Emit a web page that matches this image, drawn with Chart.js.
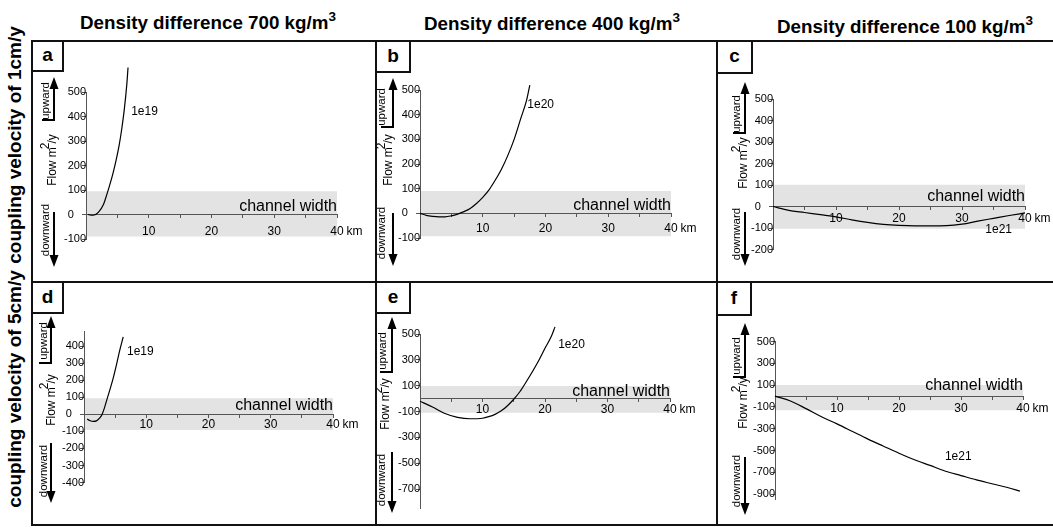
<!DOCTYPE html>
<html>
<head>
<meta charset="utf-8">
<script src="https://cdn.jsdelivr.net/npm/chart.js@4.4.0/dist/chart.umd.min.js"></script>
<style>
  body { margin: 0; background: #fff; }
  #page { position: relative; width: 1053px; height: 530px; overflow: hidden; font-family: "Liberation Sans", Arial, sans-serif; color: #000; }
  .title { position: absolute; font-weight: bold; font-size: 18.8px; line-height: 22px; white-space: nowrap; transform: translateX(-50%); }
  .title sup { position: relative; top: -8px; vertical-align: baseline; font-size: 13.5px; }
  .rowlab { position: absolute; font-weight: bold; font-size: 19px; white-space: nowrap; transform: translate(-50%, -50%) rotate(-90deg); }
  .rule { position: absolute; background: #111; z-index: 3; }
  .tag { position: absolute; box-sizing: border-box; border: 2px solid #111; background: #fff; font-weight: bold; font-size: 19px; text-align: center; z-index: 2; }
  canvas { position: absolute; }
</style>
</head>
<body>
<div id="page">
  <div class="title" style="left:208px;top:12px">Density difference 700 kg/m<sup>3</sup></div>
  <div class="title" style="left:552px;top:13px">Density difference 400 kg/m<sup>3</sup></div>
  <div class="title" style="left:905px;top:16px">Density difference 100 kg/m<sup>3</sup></div>
  <div class="rowlab" style="left:15px;top:145px">coupling velocity of 1cm/y</div>
  <div class="rowlab" style="left:15px;top:389px">coupling velocity of 5cm/y</div>

  <div class="rule" style="left:31px;top:40px;width:1022px;height:2px"></div>
  <div class="rule" style="left:31px;top:281px;width:1022px;height:2px"></div>
  <div class="rule" style="left:31px;top:524px;width:1022px;height:2px"></div>
  <div class="rule" style="left:31px;top:40px;width:2px;height:486px"></div>
  <div class="rule" style="left:375px;top:40px;width:2px;height:486px"></div>
  <div class="rule" style="left:716px;top:40px;width:2px;height:486px"></div>

  <div class="tag" style="left:31px;top:40px;width:33px;height:32px;line-height:26px">a</div>
  <div class="tag" style="left:375px;top:40px;width:36px;height:33px;line-height:27px">b</div>
  <div class="tag" style="left:716px;top:40px;width:37px;height:34px;line-height:28px">c</div>
  <div class="tag" style="left:31px;top:281px;width:33px;height:33px;line-height:27px">d</div>
  <div class="tag" style="left:375px;top:281px;width:36px;height:33px;line-height:27px">e</div>
  <div class="tag" style="left:716px;top:281px;width:36px;height:35px;line-height:29px">f</div>
</div>
<script>
// x ticks (km) shared by all panels
const xTicks = [5, 10, 15, 20, 25, 30, 35, 40];

// y ticks (Flow m2/y)
const ticksA = [-100, 0, 100, 200, 300, 400, 500];
const ticksB = [-100, 0, 100, 200, 300, 400, 500];
const ticksC = [-200, -100, 0, 100, 200, 300, 400, 500];
const ticksD = [-400, -300, -200, -100, 0, 100, 200, 300, 400];
const ticksE = [-700, -500, -300, -100, 100, 300, 500];
const ticksF = [-900, -700, -500, -300, -100, 100, 300, 500];

// curves: distance (km) / flow (m2/y)
const distA = [0.3, 0.8, 1.3, 2.0, 2.8, 3.3, 3.8, 4.3, 4.8, 5.3, 5.7, 6.1, 6.5, 6.7];
const flowA = [0, -3, -2, 10, 42, 80, 122, 168, 222, 285, 350, 428, 530, 600];

const distB = [0, 1, 2, 3, 4, 5, 6, 7, 8, 9, 10, 11, 12, 13, 14, 15, 16, 17, 17.5];
const flowB = [0, -8, -12, -14, -14, -10, -3, 7, 20, 40, 65, 95, 135, 180, 235, 300, 380, 460, 520];

const distC = [0, 2.5, 5, 7.5, 10, 12.5, 15, 17.5, 20, 22.5, 25, 27.5, 30, 32.5, 35, 37.5, 40];
const flowC = [0, -18, -28, -38, -48, -62, -74, -83, -88, -90, -90, -89, -82, -68, -55, -42, -30];

const distD = [0.5, 1, 1.5, 2, 2.5, 2.9, 3.3, 3.7, 4.2, 4.7, 5.2, 5.7, 6.3];
const flowD = [-27, -37, -41, -38, -22, 0, 40, 90, 150, 215, 290, 370, 456];

const distE = [0, 2, 4, 6, 8, 10, 11, 12, 13, 14, 15, 16, 17, 18, 19, 20, 21, 21.6];
const flowE = [-20, -65, -115, -145, -156, -152, -140, -122, -95, -55, -5, 55, 130, 210, 295, 390, 480, 555];

const distF = [0, 2.5, 5, 7.5, 10, 12.5, 15, 17.5, 20, 22.5, 25, 27.5, 30, 32.5, 35, 37.5, 39.5];
const flowF = [0, -45, -115, -190, -255, -325, -395, -460, -525, -585, -637, -690, -730, -770, -805, -840, -873];

// channel width band (top, bottom)
const bandA = [95, -90];
const bandB = [91, -93];
const bandC = [101, -104];
const bandD = [95, -92];
const bandE = [97, -109];
const bandF = [101, -129];

const curveNames = ['1e19', '1e20', '1e21', '1e19', '1e20', '1e21'];

const FONT = '"Liberation Sans", Arial, sans-serif';
Chart.defaults.font.family = FONT;
Chart.defaults.color = '#000';

// cells and plot frames, page pixels
const colLeft = [33, 377, 718];
const colWidth = [342, 339, 335];
const rowTop = [42, 283];
const rowHeight = [239, 241];

const panels = [
    { col: 0, row: 0, dist: distA, flow: flowA, band: bandA, yTicks: ticksA, yMin: -100, yMax: 500,
      area: [86, 337, 92, 239], yPad: 4, xOff: 17, cwGap: 4, nameAt: [7.2, 420],
      deco: { ax: 54, upTip: 77, upTail: 120, upText: [46, 101], flow: [52, 160], downTail: 212, downTip: 267, downText: [46, 230] } },
    { col: 1, row: 0, dist: distB, flow: flowB, band: bandB, yTicks: ticksB, yMin: -100, yMax: 500,
      area: [420, 671, 90, 238], yPad: 1, xOff: 15, cwGap: 3, nameAt: [17.1, 439],
      deco: { ax: 393, upTip: 78, upTail: 127, upText: [382, 107], flow: [388, 160], downTail: 213, downTip: 266, downText: [382, 233] } },
    { col: 2, row: 0, dist: distC, flow: flowC, band: bandC, yTicks: ticksC, yMin: -200, yMax: 500,
      area: [773, 1025, 99, 249.5], yPad: 4, xOff: 12.5, cwGap: 6, nameAt: [33.7, -108],
      deco: { ax: 745, upTip: 82, upTail: 133, upText: [737, 114], flow: [743, 163], downTail: 212, downTip: 266, downText: [737, 234] } },
    { col: 0, row: 1, dist: distD, flow: flowD, band: bandD, yTicks: ticksD, yMin: -400, yMax: 490,
      area: [84, 333, 331, 482.5], yPad: 1, xOff: 10.6, cwGap: 4, nameAt: [6.9, 368],
      deco: { ax: 51, upTip: 316, upTail: 363, upText: [44, 341], flow: [51, 400], downTail: 443, downTip: 503, downText: [44, 471] } },
    { col: 1, row: 1, dist: distE, flow: flowE, band: bandE, yTicks: ticksE, yMin: -850, yMax: 500,
      area: [420, 670, 334, 508.4], yPad: 1, xOff: 11, cwGap: 3, nameAt: [22.1, 415],
      deco: { ax: 392, upTip: 317, upTail: 372, upText: [383, 351], flow: [385, 404], downTail: 452, downTip: 513, downText: [382, 480] } },
    { col: 2, row: 1, dist: distF, flow: flowF, band: bandF, yTicks: ticksF, yMin: -950, yMax: 500,
      area: [775, 1023, 341.7, 499.5], yPad: 6, xOff: 13, cwGap: 6, nameAt: [27.4, -558],
      deco: { ax: 745, upTip: 323, upTail: 377, upText: [737, 356], flow: [743, 403], downTail: 457, downTip: 515, downText: [737, 481] } }
];

const vText = (ctx, str, cx, cy) => {
    ctx.save();
    ctx.translate(cx, cy);
    ctx.rotate(-Math.PI / 2);
    ctx.textAlign = 'center';
    ctx.textBaseline = 'middle';
    ctx.fillText(str, 0, 0);
    ctx.restore();
};

const arrowHead = (ctx, x, y, dir) => {
    ctx.beginPath();
    ctx.moveTo(x, y);
    ctx.lineTo(x - 4.5, y + dir * 12);
    ctx.lineTo(x + 4.5, y + dir * 12);
    ctx.closePath();
    ctx.fill();
};

// annotations drawn on top of each panel
const decoPlugin = {
    id: 'deco',
    afterDraw(chart, args, o) {
        const ctx = chart.ctx;
        const xs = chart.scales.x;
        const ys = chart.scales.y;
        const d = o.deco;
        const L = o.left, T = o.top;
        const zero = ys.getPixelForValue(0);
        ctx.save();
        ctx.fillStyle = '#000';
        ctx.strokeStyle = '#000';

        ctx.font = '12px ' + FONT;
        ctx.textAlign = 'left';
        ctx.textBaseline = 'middle';
        ctx.fillText(o.name, xs.getPixelForValue(o.nameAt[0]), ys.getPixelForValue(o.nameAt[1]));
        ctx.fillText('km', xs.getPixelForValue(40) + 9.5, zero + o.xOff);

        ctx.font = '16px ' + FONT;
        ctx.textAlign = 'right';
        ctx.textBaseline = 'alphabetic';
        ctx.fillText('channel width', xs.getPixelForValue(40), zero - o.cwGap);

        // upward / downward arrows
        const ax = d.ax - L;
        ctx.lineWidth = 2;
        ctx.beginPath();
        ctx.moveTo(ax, d.upTip - T + 8);
        ctx.lineTo(ax, d.upTail - T);
        ctx.moveTo(ax + 1, d.upTail - T);
        ctx.lineTo(ax - 12, d.upTail - T);
        ctx.moveTo(ax, d.downTail - T);
        ctx.lineTo(ax, d.downTip - T - 8);
        ctx.stroke();
        arrowHead(ctx, ax, d.upTip - T, 1);
        arrowHead(ctx, ax, d.downTip - T, -1);

        ctx.font = '11.5px ' + FONT;
        vText(ctx, 'upward', d.upText[0] - L, d.upText[1] - T);
        vText(ctx, 'downward', d.downText[0] - L, d.downText[1] - T);

        // Flow m2/y with raised 2
        ctx.save();
        ctx.translate(d.flow[0] - L, d.flow[1] - T);
        ctx.rotate(-Math.PI / 2);
        ctx.textBaseline = 'middle';
        ctx.textAlign = 'left';
        ctx.font = '12px ' + FONT;
        const w1 = ctx.measureText('Flow m').width;
        const w3 = ctx.measureText('/y').width;
        const w2 = ctx.measureText('2').width - 3;
        let x = -(w1 + w2 + w3) / 2;
        ctx.fillText('Flow m', x, 1);
        ctx.fillText('2', x + w1 - 2, -6);
        ctx.fillText('/y', x + w1 + w2, 1);
        ctx.restore();

        ctx.restore();
    }
};
Chart.register(decoPlugin);

const page = document.getElementById('page');

panels.forEach((p, i) => {
    const left = colLeft[p.col];
    const top = rowTop[p.row];
    const w = colWidth[p.col];
    const h = rowHeight[p.row];
    const cv = document.createElement('canvas');
    cv.width = w;
    cv.height = h;
    cv.style.left = left + 'px';
    cv.style.top = top + 'px';
    page.appendChild(cv);

    new Chart(cv, {
        type: 'line',
        data: {
            datasets: [
                {
                    data: p.dist.map((x, k) => ({ x: x, y: p.flow[k] })),
                    borderColor: '#000',
                    borderWidth: 1.2,
                    pointRadius: 0,
                    fill: false,
                    cubicInterpolationMode: 'monotone',
                    clip: false
                },
                {
                    data: [{ x: 0, y: p.band[0] }, { x: 40, y: p.band[0] }],
                    fill: { value: p.band[1] },
                    backgroundColor: '#e3e3e3',
                    borderColor: 'rgba(0,0,0,0)',
                    borderWidth: 0,
                    pointRadius: 0
                }
            ]
        },
        options: {
            responsive: false,
            animation: false,
            devicePixelRatio: 1,
            layout: {
                padding: {
                    left: p.area[0] - left,
                    right: left + w - p.area[1],
                    top: p.area[2] - top,
                    bottom: top + h - p.area[3]
                }
            },
            scales: {
                x: {
                    type: 'linear',
                    min: 0,
                    max: 40,
                    position: { y: 0 },
                    afterBuildTicks: (s) => { s.ticks = xTicks.map(v => ({ value: v })); },
                    ticks: {
                        autoSkip: false,
                        maxRotation: 0,
                        padding: p.xOff - 3 - 7.2,
                        font: { size: 12 },
                        color: '#000',
                        callback: (v) => (v % 10 === 0 ? String(v) : '')
                    },
                    grid: { drawOnChartArea: false, tickLength: 3, color: '#555' },
                    border: { color: '#555', width: 1 }
                },
                y: {
                    type: 'linear',
                    min: p.yMin,
                    max: p.yMax,
                    position: { x: 0 },
                    afterBuildTicks: (s) => { s.ticks = p.yTicks.map(v => ({ value: v })); },
                    ticks: {
                        autoSkip: false,
                        padding: p.yPad,
                        font: { size: 11 },
                        color: '#000',
                        callback: (v) => (v === 0 ? '0    ' : String(v))
                    },
                    grid: { drawOnChartArea: false, tickLength: 4, color: '#555' },
                    border: { color: '#555', width: 1 }
                }
            },
            plugins: {
                legend: { display: false },
                tooltip: { enabled: false },
                filler: { drawTime: 'beforeDraw' },
                deco: {
                    left: left,
                    top: top,
                    deco: p.deco,
                    name: curveNames[i],
                    nameAt: p.nameAt,
                    xOff: p.xOff,
                    cwGap: p.cwGap
                }
            }
        }
    });
});
</script>
</body>
</html>
